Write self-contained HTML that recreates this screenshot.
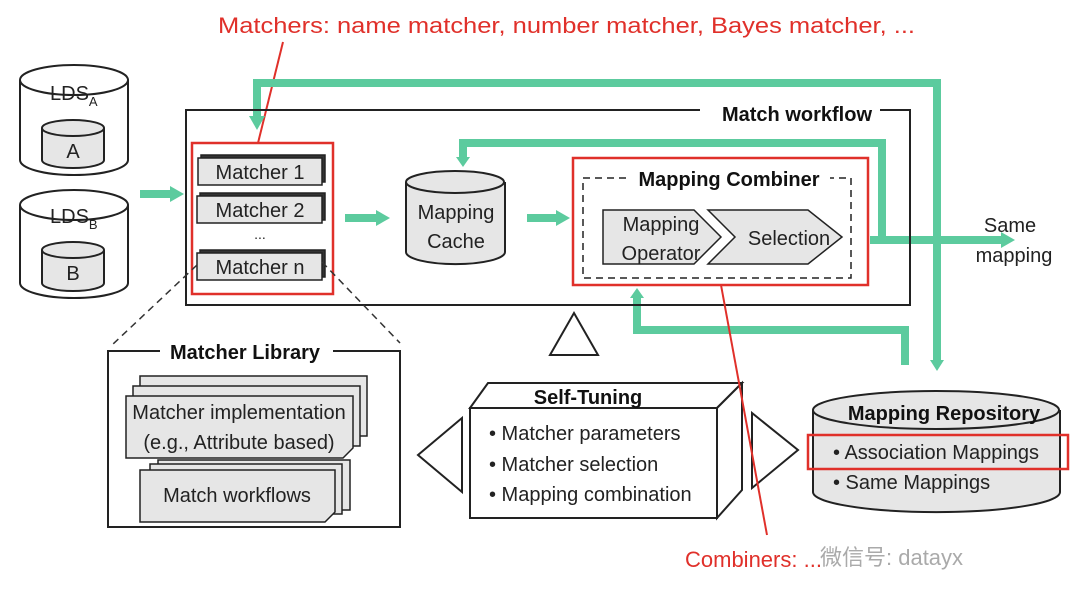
<!DOCTYPE html>
<html><head><meta charset="utf-8"><style>
html,body{margin:0;padding:0;background:#fff}
svg{display:block}
text{font-family:"Liberation Sans","Noto Sans CJK SC",sans-serif}
</style></head><body>
<svg width="1080" height="610" viewBox="0 0 1080 610" xmlns="http://www.w3.org/2000/svg">
<defs>
<marker id="ga" markerWidth="14" markerHeight="16" refX="2" refY="8" orient="auto" markerUnits="userSpaceOnUse"><path d="M0,0 L14,8 L0,16 z" fill="#5ccb9e"/></marker>
</defs>
<rect width="1080" height="610" fill="#fff"/>

<text x="218" y="33" font-size="22" fill="#e0302a" textLength="697" lengthAdjust="spacingAndGlyphs">Matchers: name matcher, number matcher, Bayes matcher, ...</text>
<line x1="283" y1="42" x2="258" y2="143" stroke="#e0302a" stroke-width="2"/>

<g fill="none" stroke="#5ccb9e" stroke-width="8">
<polyline points="937,360 937,83 257,83 257,118" marker-end="url(#ga)"/>
<polyline points="882,240 882,143 463,143 463,158"/>
<polyline points="905,365 905,330 637,330 637,298"/>
<line x1="870" y1="240" x2="1003" y2="240" marker-end="url(#ga)"/>
<line x1="140" y1="194" x2="172" y2="194" marker-end="url(#ga)"/>
<line x1="345" y1="218" x2="378" y2="218" marker-end="url(#ga)"/>
<line x1="527" y1="218" x2="558" y2="218" marker-end="url(#ga)"/>
</g>
<path d="M456,157 L470,157 L463,167 z" fill="#5ccb9e"/>
<path d="M630,298 L644,298 L637,288 z" fill="#5ccb9e"/>
<path d="M930,360 L944,360 L937,371 z" fill="#5ccb9e"/>

<path d="M700,110 L186,110 L186,305 L910,305 L910,110 L880,110" fill="none" stroke="#222" stroke-width="2"/>
<text x="797" y="121" font-size="20" font-weight="bold" text-anchor="middle" fill="#111">Match workflow</text>

<g stroke="#222" stroke-width="2">
<path d="M20,80 L20,160 A54,15 0 0 0 128,160 L128,80" fill="#fff"/>
<ellipse cx="74" cy="80" rx="54" ry="15" fill="#fff"/>
<path d="M42,128 L42,160 A31,8 0 0 0 104,160 L104,128" fill="#e6e6e6"/>
<ellipse cx="73" cy="128" rx="31" ry="8" fill="#e6e6e6"/>
<path d="M20,205 L20,283 A54,15 0 0 0 128,283 L128,205" fill="#fff"/>
<ellipse cx="74" cy="205" rx="54" ry="15" fill="#fff"/>
<path d="M42,250 L42,283 A31,8 0 0 0 104,283 L104,250" fill="#e6e6e6"/>
<ellipse cx="73" cy="250" rx="31" ry="8" fill="#e6e6e6"/>
</g>
<text x="50" y="100" font-size="20" fill="#222">LDS<tspan font-size="13" dy="6">A</tspan></text>
<text x="73" y="158" font-size="20" fill="#222" text-anchor="middle">A</text>
<text x="50" y="223" font-size="20" fill="#222">LDS<tspan font-size="13" dy="6">B</tspan></text>
<text x="73" y="280" font-size="20" fill="#222" text-anchor="middle">B</text>

<rect x="192" y="143" width="141" height="151" fill="none" stroke="#e0302a" stroke-width="2.5"/>
<g stroke="#222" stroke-width="1.5">
<rect x="201" y="155" width="124" height="27" fill="#333"/><rect x="198" y="158" width="124" height="27" fill="#e6e6e6"/>
<rect x="200" y="193" width="125" height="27" fill="#333"/><rect x="197" y="196" width="125" height="27" fill="#e6e6e6"/>
<rect x="200" y="250" width="125" height="27" fill="#333"/><rect x="197" y="253" width="125" height="27" fill="#e6e6e6"/>
</g>
<g font-size="20" fill="#222" text-anchor="middle">
<text x="260" y="179">Matcher 1</text>
<text x="260" y="217">Matcher 2</text>
<text x="260" y="239" font-size="14">...</text>
<text x="260" y="274">Matcher n</text>
</g>

<path d="M406,182 L406,252 A49,12 0 0 0 505,252 L505,182" fill="#e6e6e6" stroke="#222" stroke-width="2"/>
<ellipse cx="455" cy="182" rx="49" ry="11" fill="#e6e6e6" stroke="#222" stroke-width="2"/>
<text x="456" y="219" font-size="20" fill="#222" text-anchor="middle">Mapping</text>
<text x="456" y="248" font-size="20" fill="#222" text-anchor="middle">Cache</text>

<rect x="573" y="158" width="295" height="127" fill="none" stroke="#e0302a" stroke-width="2.5"/>
<path d="M626,178 L583,178 L583,278 L851,278 L851,178 L830,178" fill="none" stroke="#222" stroke-width="1.5" stroke-dasharray="7,5"/>
<text x="729" y="186" font-size="20" font-weight="bold" text-anchor="middle" fill="#111">Mapping Combiner</text>
<path d="M603,210 L694,210 L721,237 L694,264 L603,264 z" fill="#e6e6e6" stroke="#222" stroke-width="1.5"/>
<path d="M708,210 L808,210 L842,237 L808,264 L708,264 L735,237 z" fill="#e6e6e6" stroke="#222" stroke-width="1.5"/>
<text x="661" y="231" font-size="20" fill="#222" text-anchor="middle">Mapping</text>
<text x="661" y="260" font-size="20" fill="#222" text-anchor="middle">Operator</text>
<text x="789" y="245" font-size="20" fill="#222" text-anchor="middle">Selection</text>
<text x="1010" y="232" font-size="20" fill="#222" text-anchor="middle">Same</text>
<text x="1014" y="262" font-size="20" fill="#222" text-anchor="middle">mapping</text>

<path d="M550,355 L598,355 L574,313 z" fill="#fff" stroke="#222" stroke-width="2"/>

<line x1="197" y1="265" x2="112" y2="345" stroke="#333" stroke-width="1.5" stroke-dasharray="7,5"/>
<line x1="322" y1="262" x2="400" y2="343" stroke="#333" stroke-width="1.5" stroke-dasharray="7,5"/>

<path d="M160,351 L108,351 L108,527 L400,527 L400,351 L333,351" fill="none" stroke="#222" stroke-width="2"/>
<text x="245" y="359" font-size="20" font-weight="bold" text-anchor="middle" fill="#111">Matcher Library</text>
<g stroke="#222" stroke-width="1.5" fill="#e6e6e6">
<rect x="140" y="376" width="227" height="60"/>
<rect x="133" y="386" width="227" height="60"/>
<path d="M126,396 L353,396 L353,448 L343,458 L126,458 z"/>
<rect x="158" y="460" width="192" height="50"/>
<rect x="150" y="464" width="192" height="50"/>
<path d="M140,470 L335,470 L335,512 L325,522 L140,522 z"/>
</g>
<text x="239" y="419" font-size="20" fill="#222" text-anchor="middle">Matcher implementation</text>
<text x="239" y="449" font-size="20" fill="#222" text-anchor="middle">(e.g., Attribute based)</text>
<text x="237" y="502" font-size="20" fill="#222" text-anchor="middle">Match workflows</text>

<g stroke="#222" stroke-width="2" fill="#fff">
<path d="M470,408 L488,383 L742,383 L717,408 z"/>
<path d="M717,408 L742,383 L742,490 L717,518 z"/>
<rect x="470" y="408" width="247" height="110"/>
</g>
<text x="588" y="404" font-size="20" font-weight="bold" text-anchor="middle" fill="#111">Self-Tuning</text>
<g font-size="20" fill="#222">
<text x="489" y="440">• Matcher parameters</text>
<text x="489" y="471">• Matcher selection</text>
<text x="489" y="501">• Mapping combination</text>
</g>
<path d="M462,418 L462,492 L418,455 z" fill="#fff" stroke="#222" stroke-width="2"/>
<path d="M752,413 L752,488 L798,450 z" fill="#fff" stroke="#222" stroke-width="2"/>

<path d="M813,410 L813,492 A123,20 0 0 0 1060,492 L1060,410" fill="#e6e6e6" stroke="#222" stroke-width="2"/>
<ellipse cx="936" cy="410" rx="123" ry="19" fill="#e6e6e6" stroke="#222" stroke-width="2"/>
<text x="944" y="420" font-size="20" font-weight="bold" text-anchor="middle" fill="#111">Mapping Repository</text>
<rect x="808" y="435" width="260" height="34" fill="none" stroke="#e0302a" stroke-width="2.5"/>
<text x="833" y="459" font-size="20" fill="#222">• Association Mappings</text>
<text x="833" y="489" font-size="20" fill="#222">• Same Mappings</text>

<line x1="721" y1="285" x2="767" y2="535" stroke="#e0302a" stroke-width="2"/>
<text x="685" y="567" font-size="22" fill="#e0302a">Combiners: ...</text>
<text x="820" y="565" font-size="22" fill="#aaa">微信号: datayx</text>
</svg>
</body></html>
